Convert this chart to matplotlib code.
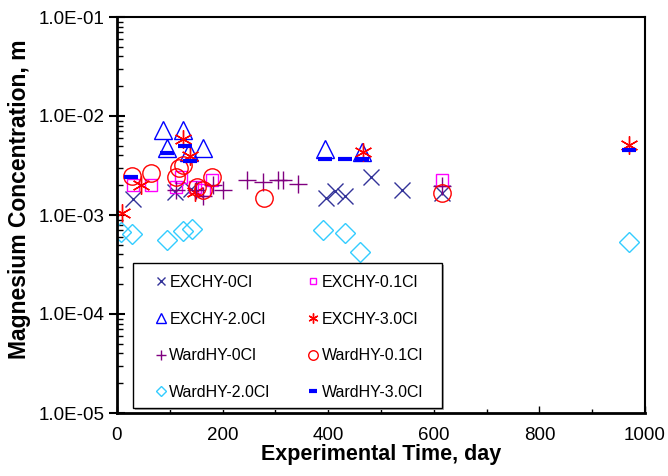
import numpy as np
import matplotlib
matplotlib.use('Agg')
import matplotlib.pyplot as plt
from matplotlib.patches import Rectangle
from matplotlib.ticker import MultipleLocator, LogLocator, NullFormatter

plt.rcParams['font.family'] = ['Liberation Sans', 'DejaVu Sans']

# EXCHY series
exchy_0_t = [30, 110, 140, 395, 412, 432, 482, 540, 615]
exchy_0_m = [1.45e-3, 1.7e-3, 1.85e-3, 1.5e-3, 1.75e-3, 1.55e-3, 2.4e-3, 1.8e-3, 1.65e-3]

exchy_01_t = [30, 65, 112, 122, 148, 165, 180, 615]
exchy_01_m = [2.0e-3, 2.0e-3, 1.9e-3, 2.4e-3, 1.9e-3, 1.8e-3, 2.25e-3, 2.25e-3]

exchy_20_t = [88, 125, 95, 136, 163, 394, 464]
exchy_20_m = [7.3e-3, 7.3e-3, 4.8e-3, 4.3e-3, 4.8e-3, 4.6e-3, 4.3e-3]

exchy_30_t = [10, 45, 125, 138, 148, 465, 970]
exchy_30_m = [1.05e-3, 2.0e-3, 5.9e-3, 3.9e-3, 1.7e-3, 4.3e-3, 5.1e-3]

# WardHY series
ward_0_t = [112, 150, 163, 182, 201, 246, 277, 305, 315, 343, 615]
ward_0_m = [1.8e-3, 1.8e-3, 1.55e-3, 2.0e-3, 1.8e-3, 2.25e-3, 2.15e-3, 2.25e-3, 2.25e-3, 2.05e-3, 1.95e-3]

ward_01_t = [29, 64, 112, 118, 125, 151, 163, 180, 279, 615]
ward_01_m = [2.45e-3, 2.65e-3, 2.4e-3, 3.0e-3, 3.2e-3, 1.9e-3, 1.8e-3, 2.4e-3, 1.5e-3, 1.65e-3]

ward_20_t = [8, 28, 95, 125, 142, 390, 432, 460, 970]
ward_20_m = [6.8e-4, 6.4e-4, 5.6e-4, 6.9e-4, 7.2e-4, 7.1e-4, 6.6e-4, 4.2e-4, 5.3e-4]

ward_30_t = [27, 95, 129, 138, 394, 432, 464, 970]
ward_30_m = [2.4e-3, 4.2e-3, 5.0e-3, 3.5e-3, 3.7e-3, 3.7e-3, 3.7e-3, 4.5e-3]

W, H = 668, 476
fig = plt.figure(figsize=(W / 100, H / 100), dpi=100)
ax = fig.add_axes([117 / W, 1 - 413 / H, 528 / W, 396 / H])

navy = '#333399'
s_0, = ax.plot(exchy_0_t, exchy_0_m, ls='none', marker='x', ms=11, mew=1.0, color=navy)
s_01, = ax.plot(exchy_01_t, exchy_01_m, ls='none', marker='s', ms=9, mew=1.0, mfc='none', mec='#FF00FF')
s_20, = ax.plot(exchy_20_t, exchy_20_m, ls='none', marker='^', ms=13, mew=1.0, mfc='none', mec='#0000FF')
s_30, = ax.plot(exchy_30_t, exchy_30_m, ls='none', marker=(6, 2, 0), ms=13, mew=1.0, color='#FF0000')
w_0, = ax.plot(ward_0_t, ward_0_m, ls='none', marker='+', ms=13, mew=1.0, color='#800080')
w_01, = ax.plot(ward_01_t, ward_01_m, ls='none', marker='o', ms=12.5, mew=1.0, mfc='none', mec='#FF0000')
w_20, = ax.plot(ward_20_t, ward_20_m, ls='none', marker='D', ms=10, mew=1.0, mfc='none', mec='#33CCFF')
w_30, = ax.plot(ward_30_t, ward_30_m, ls='none', marker='_', ms=10, mew=3.0, color='#0000FF')

ax.set_yscale('log')
ax.set_xlim(0, 1000)
ax.set_ylim(1e-5, 1e-1)
ax.xaxis.set_major_locator(MultipleLocator(200))
ax.xaxis.set_minor_locator(MultipleLocator(100))
ax.set_yticks([1e-5, 1e-4, 1e-3, 1e-2, 1e-1])
ax.set_yticklabels(['1.0E-05', '1.0E-04', '1.0E-03', '1.0E-02', '1.0E-01'])
ax.yaxis.set_minor_locator(LogLocator(base=10, subs=np.arange(2, 10)))
ax.yaxis.set_minor_formatter(NullFormatter())
ax.tick_params(axis='y', which='major', direction='inout', length=11, width=1.5, labelsize=13.5, pad=3.5)
ax.tick_params(axis='y', which='minor', direction='in', length=4, width=1.0)
ax.tick_params(axis='x', which='major', direction='in', length=5, width=1.0, labelsize=13.5, pad=10)
ax.tick_params(axis='x', which='minor', direction='in', length=3, width=1.0)
for side in ['left', 'bottom']:
    ax.spines[side].set_linewidth(2.0)
for side in ['top', 'right']:
    ax.spines[side].set_linewidth(1.5)

ax.set_xlabel('Experimental Time, day', fontsize=15.5, fontweight='bold', labelpad=0)
ax.set_ylabel('Magnesium Concentration, m', fontsize=16.5, fontweight='bold')
ax.yaxis.set_label_coords(-0.163, 0.54)

# legend frame drawn by hand, entries placed inside it
fig.patches.append(Rectangle((135 / W, 1 - 410 / H), 309 / W, 145 / H, transform=fig.transFigure,
                             facecolor='#AAAAAA', edgecolor='none', zorder=4))
fig.patches.append(Rectangle((133 / W, 1 - 408 / H), 309 / W, 145 / H, transform=fig.transFigure,
                             facecolor='white', edgecolor='black', lw=1.0, zorder=5))

handles = [s_0, s_20, w_0, w_20, s_01, s_30, w_01, w_30]
labels = ['EXCHY-0Cl', 'EXCHY-2.0Cl', 'WardHY-0Cl', 'WardHY-2.0Cl',
          'EXCHY-0.1Cl', 'EXCHY-3.0Cl', 'WardHY-0.1Cl', 'WardHY-3.0Cl']
leg = fig.legend(handles, labels, ncol=2, loc='upper left', bbox_to_anchor=(155 / W, 1 - 275 / H),
                 fontsize=11.5, frameon=False, markerscale=0.55,
                 handlelength=0.7, handletextpad=0.2, columnspacing=2.3,
                 labelspacing=1.35, borderpad=0, borderaxespad=0)
leg.set_zorder(6)

fig.savefig('out.png', dpi=100)
